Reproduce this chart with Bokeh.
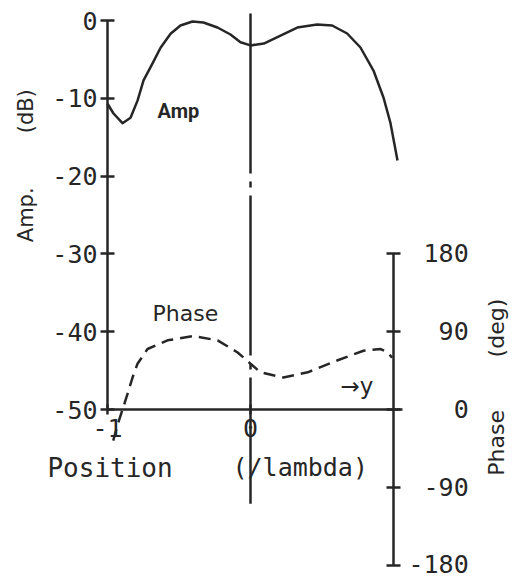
import math
from bokeh.plotting import figure
from bokeh.models import LinearAxis, Range1d, FixedTicker, Label
from bokeh.embed import file_html
from bokeh.resources import INLINE

# ---------------- data ----------------
amp_x = [-1.0, -0.958, -0.895, -0.839, -0.79, -0.748, -0.685, -0.629, -0.559, -0.49,
         -0.406, -0.329, -0.231, -0.14, -0.07, 0.0, 0.093, 0.21, 0.327, 0.466,
         0.571, 0.676, 0.769, 0.86, 0.93, 0.979, 1.028]
amp_db = [-10.7, -11.95, -13.2, -12.5, -10.3, -7.7, -5.5, -3.5, -1.7, -0.64,
          -0.13, -0.26, -0.9, -1.8, -2.8, -3.2, -2.96, -1.93, -0.9, -0.51,
          -0.64, -1.67, -3.47, -6.43, -9.9, -13.2, -18.0]

phase_x = [-0.96, -0.93, -0.895, -0.86, -0.825, -0.79, -0.72, -0.58, -0.40, -0.23,
           -0.09, 0.0, 0.07, 0.23, 0.40, 0.61, 0.79, 0.91, 0.96, 0.99]
phase_deg = [-36, -18, 0, 18, 37, 53, 70, 80, 85, 80,
             66, 53, 43, 37, 43, 57, 68, 70, 66, 60]

amp_ticks = [0, -10, -20, -30, -40, -50]
amp_tick_labels = ["0", "-10", "-20", "-30", "-40", "-50"]
phase_ticks = [180, 90, 0, -90, -180]
phase_tick_labels = ["\u00a0180", "\u00a0\u00a090", "\u00a0\u00a0\u00a00", "\u00a0-90", "-180"]
pos_ticks = [-1, 0]
pos_tick_labels = ["-1", "0"]

center_x = [0.0, 0.0]
center_db = [0.9, -62.1]

INK = "#262626"

# ---------------- figure ----------------
Y0, Y1 = -71.72, 2.571
p = figure(width=525, height=578,
           x_range=Range1d(-1.7483, 1.9231),
           y_range=Range1d(Y0, Y1),
           x_axis_type=None, y_axis_type=None,
           output_backend="svg", toolbar_location=None, min_border=0)
p.extra_y_ranges = {"phase": Range1d((Y0 + 50) * 9, (Y1 + 50) * 9)}
p.outline_line_color = None
p.background_fill_color = "white"
p.border_fill_color = "white"


def style_axis(ax, tick_in, tick_out, standoff, size):
    ax.axis_line_color = INK
    ax.axis_line_width = 2.5
    ax.major_tick_line_color = INK
    ax.major_tick_line_width = 2.5
    ax.major_tick_in = tick_in
    ax.major_tick_out = tick_out
    ax.minor_tick_in = 0
    ax.minor_tick_out = 0
    ax.major_label_standoff = standoff
    ax.major_label_text_font = "DejaVu Sans Mono"
    ax.major_label_text_font_size = size
    ax.major_label_text_color = INK


left = LinearAxis(fixed_location=-1.0, bounds=(-50, 0),
                  ticker=FixedTicker(ticks=amp_ticks),
                  major_label_overrides=dict(zip(amp_ticks, amp_tick_labels)))
style_axis(left, 7, 7, 3, "25px")
p.add_layout(left, "left")

bottom = LinearAxis(fixed_location=-50.0, bounds=(-1, 1.06),
                    ticker=FixedTicker(ticks=pos_ticks),
                    major_label_overrides=dict(zip(pos_ticks, pos_tick_labels)))
style_axis(bottom, 5, 5, 4, "25px")
p.add_layout(bottom, "below")

right = LinearAxis(y_range_name="phase", fixed_location=1.0, bounds=(-180, 180),
                   ticker=FixedTicker(ticks=phase_ticks),
                   major_label_overrides=dict(zip(phase_ticks, phase_tick_labels)))
style_axis(right, 7, 7, 8, "25px")
p.add_layout(right, "right")

# ---------------- curves ----------------
p.line(center_x, center_db, line_color=INK, line_width=2.5, line_dash="160 8 6 8")
p.line(amp_x, amp_db, line_color=INK, line_width=2.5, line_join="round")
p.line(phase_x, phase_deg, y_range_name="phase", line_color=INK, line_width=2.5,
       line_dash="12 7")

# ---------------- texts ----------------
def add_label(x, y, text, font, size, angle=0.0, bold=False, baseline="alphabetic"):
    p.add_layout(Label(x=x, y=y, text=text, angle=angle,
                       text_font=font, text_font_size=size,
                       text_font_style="bold" if bold else "normal",
                       text_color=INK, text_baseline=baseline, text_align="left"))

add_label(-0.65, -11.6, "Amp", "Roboto", "20px", bold=True)
add_label(-0.685, -37.7, "Phase", "DejaVu Sans", "22px")
add_label(0.63, -47.0, "\u2192y", "DejaVu Sans", "23px")
add_label(-1.42, -57.5, "Position", "DejaVu Sans Mono", "26px")
add_label(-0.126, -57.5, "(/lambda)", "DejaVu Sans Mono", "25px")

add_label(-1.573, -28.5, "Amp.", "DejaVu Sans", "21px", angle=math.pi / 2, baseline="middle")
add_label(-1.573, -14.5, "(dB)", "DejaVu Sans", "21px", angle=math.pi / 2, baseline="middle")
add_label(1.72, -58.5, "Phase", "DejaVu Sans", "22px", angle=math.pi / 2, baseline="middle")
add_label(1.72, -43.3, "(deg)", "DejaVu Sans", "22px", angle=math.pi / 2, baseline="middle")

open("out.html", "w").write(file_html(p, INLINE))
